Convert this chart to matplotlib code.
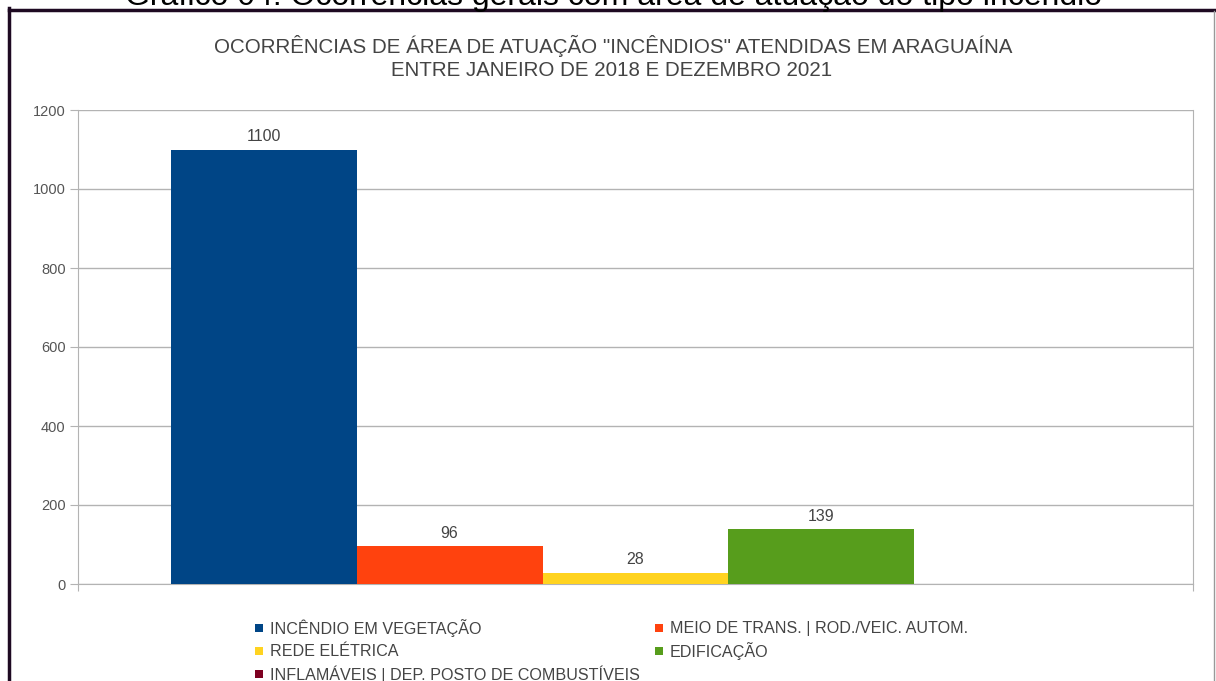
import matplotlib.pyplot as plt
from matplotlib.lines import Line2D
from matplotlib.patches import Rectangle

plt.rcParams['font.family'] = ['Liberation Sans', 'DejaVu Sans']

categorias = ["INCÊNDIO EM VEGETAÇÃO", "MEIO DE TRANS. | ROD./VEIC. AUTOM.",
              "REDE ELÉTRICA", "EDIFICAÇÃO",
              "INFLAMÁVEIS | DEP. POSTO DE COMBUSTÍVEIS"]
valores = [1100, 96, 28, 139, 0]
cores = ["#004586", "#ff420e", "#ffd320", "#579d1c", "#7e0021"]
yticks = [0, 200, 400, 600, 800, 1000, 1200]

W, H = 1216, 681
fig = plt.figure(figsize=(W / 100, H / 100), dpi=100)
ax = fig.add_axes([78 / W, 1 - 584 / H, (1193 - 78) / W, (584 - 110) / H])

# barras agrupadas numa unica categoria
largura = 0.834 / len(valores)
inicio = -0.834 / 2 + largura / 2
for i, (v, c) in enumerate(zip(valores, cores)):
    b = ax.bar(inicio + i * largura, v, width=largura, color=c, zorder=3)
    if v > 0:
        ax.bar_label(b, labels=[str(v)], padding=4, fontsize=11.5, color="#444444")

ax.set_xlim(-0.5, 0.5)
ax.set_ylim(0, 1200)
ax.set_yticks(yticks)
ax.set_xticks([-0.5, 0.5])
ax.set_xticklabels([])
ax.tick_params(axis="x", length=5, color="#b3b3b3")
ax.tick_params(axis="y", length=6, color="#b3b3b3", labelsize=10.5,
               labelcolor="#555555", pad=3)
ax.grid(axis="y", color="#b3b3b3", linewidth=1, zorder=0)
for s in ["left", "right", "bottom"]:
    ax.spines[s].set_color("#b3b3b3")
ax.spines["top"].set_visible(False)

fig.text(613 / W, 1 - 46 / H,
         'OCORRÊNCIAS DE ÁREA DE ATUAÇÃO "INCÊNDIOS" ATENDIDAS EM ARAGUAÍNA',
         ha="center", va="center", fontsize=14.8, color="#444444")
fig.text(612 / W, 1 - 70 / H, "ENTRE JANEIRO DE 2018 E DEZEMBRO 2021",
         ha="center", va="center", fontsize=14.8, color="#444444")

# titulo do documento cortado no topo
fig.text(614 / W, 1 - 5 / H,
         "Gráfico 04: Ocorrências gerais com área de atuação do tipo incêndio",
         ha="center", va="baseline", fontsize=23, color="#000000")

# moldura
fig.add_artist(Line2D([9 / W, 9 / W], [0, 1 - 8 / H], color="#1e0a22", linewidth=2.5))
fig.add_artist(Line2D([9 / W, 1], [1 - 9.5 / H, 1 - 9.5 / H], color="#1e0a22", linewidth=2.5))
fig.add_artist(Line2D([1214 / W, 1214 / W], [0, 1 - 11 / H], color="#999999", linewidth=1))

# legenda em ordem de linhas, duas colunas
col_x = [255, 655]
lin_y = [628, 651, 674]
for i, (nome, c) in enumerate(zip(categorias, cores)):
    x = col_x[i % 2]
    y = lin_y[i // 2]
    fig.add_artist(Rectangle((x / W, 1 - (y + 4) / H), 8 / W, 8 / H,
                             facecolor=c, edgecolor="none",
                             transform=fig.transFigure))
    fig.text((x + 15) / W, 1 - y / H, nome, ha="left", va="center",
             fontsize=11.6, color="#444444")

fig.savefig("out.png", dpi=100)
